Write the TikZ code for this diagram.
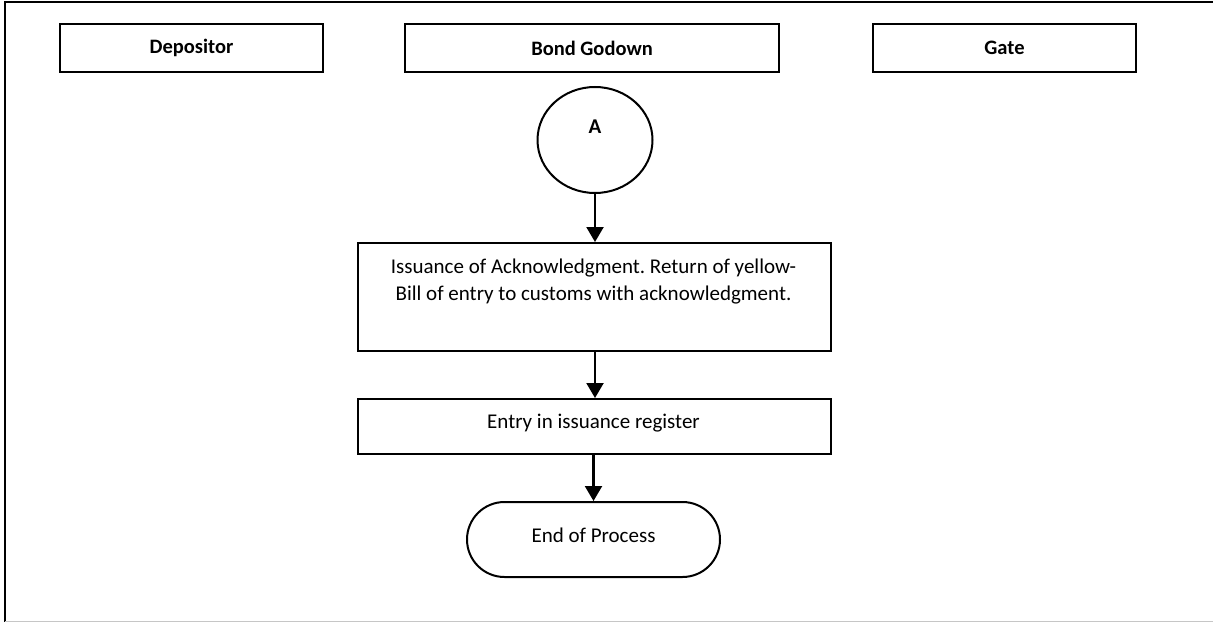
\documentclass[tikz,border=0pt]{standalone}
\usepackage{fontspec}
\setmainfont{Carlito}
\frenchspacing
\usetikzlibrary{arrows.meta,shapes.geometric,shapes.misc}
\begin{document}
\begin{tikzpicture}[x=1pt,y=-1pt,
  lane/.style={draw,line width=2pt,minimum height=48pt,inner sep=0pt,font=\bfseries\fontsize{20.5}{24}\selectfont,anchor=north west},
  proc/.style={draw,line width=2pt,inner sep=0pt,anchor=north west},
  txt/.style={font=\fontsize{21}{27}\selectfont,align=center,inner sep=0pt},
  conn/.style={line width=2.2pt,-{Triangle[length=15pt,width=17pt]}}]
\useasboundingbox (0,0) rectangle (1213,623);
\draw[line width=2pt] (1213,2) -- (5,2) -- (5,622);
\draw[line width=1.2pt,gray!45] (5,621.5) -- (1213,621.5);
\node[lane,minimum width=263pt] (dep) at (59,23) {Depositor};
\node[lane,minimum width=374pt] (bond) at (404,23) {Bond Godown};
\node[lane,minimum width=263pt] (gate) at (872,23) {Gate};
\node[draw,line width=2pt,ellipse,minimum width=115pt,minimum height=106pt,inner sep=0pt] (a) at (595,140) {};
\node[font=\bfseries\fontsize{21}{24}\selectfont,inner sep=0pt] (alab) at (595,127) {A};
\node[proc,minimum width=473pt,minimum height=108pt] (iss) at (357,242) {};
\node[txt] (isstxt) at (593.5,281.5) {Issuance of Acknowledgment. Return of yellow-\\Bill of entry to customs with acknowledgment.};
\node[proc,minimum width=473pt,minimum height=55pt] (reg) at (357,398) {};
\node[txt] (regtxt) at (593.5,423) {Entry in issuance register};
\node[draw,line width=2pt,rounded rectangle,minimum width=253pt,minimum height=75pt,inner sep=0pt] (end) at (593.5,539.5) {};
\node[txt] (endtxt) at (593.5,535) {End of Process};
\draw[conn] (a.south) -- (a.south |- iss.north);
\draw[conn] (iss.south -| a.south) -- (a.south |- reg.north);
\draw[conn] (reg.south -| end.north) -- (end.north);
\end{tikzpicture}
\end{document}
